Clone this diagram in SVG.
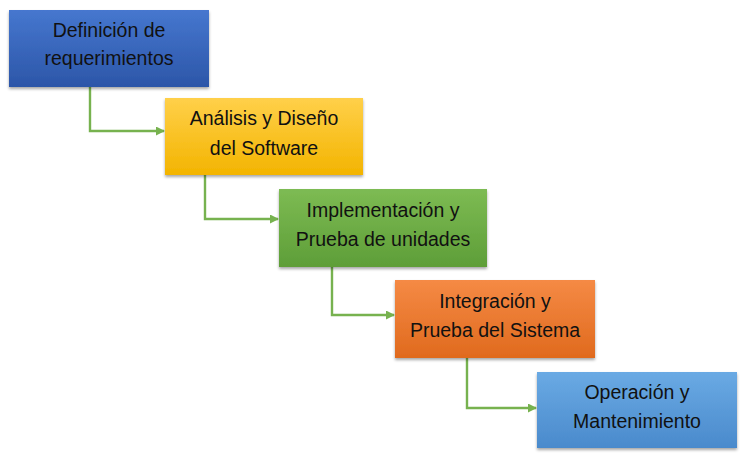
<svg xmlns="http://www.w3.org/2000/svg" width="745" height="460" viewBox="0 0 745 460">
<style>
.t{font-family:"Liberation Sans",Arial,sans-serif;font-size:19.5px;fill:#111;text-anchor:middle}
.c{fill:none;stroke:#77b24f;stroke-width:2.4}
</style>
<defs>
<linearGradient id="gB" x1="0" y1="0" x2="0" y2="1"><stop offset="0" stop-color="#4677cf"/><stop offset="1" stop-color="#2c56a8"/></linearGradient>
<linearGradient id="gY" x1="0" y1="0" x2="0" y2="1"><stop offset="0" stop-color="#ffd04a"/><stop offset="1" stop-color="#f3b400"/></linearGradient>
<linearGradient id="gG" x1="0" y1="0" x2="0" y2="1"><stop offset="0" stop-color="#7dbb53"/><stop offset="1" stop-color="#5e9e38"/></linearGradient>
<linearGradient id="gO" x1="0" y1="0" x2="0" y2="1"><stop offset="0" stop-color="#f58a45"/><stop offset="1" stop-color="#e06a1e"/></linearGradient>
<linearGradient id="gL" x1="0" y1="0" x2="0" y2="1"><stop offset="0" stop-color="#6aaae4"/><stop offset="1" stop-color="#4a8acc"/></linearGradient>
<filter id="sh" x="-5%" y="-5%" width="110%" height="120%"><feDropShadow dx="0" dy="2" stdDeviation="1.5" flood-color="#000" flood-opacity="0.35"/></filter>
<marker id="ah" markerWidth="9" markerHeight="9" refX="8" refY="4.5" orient="auto" markerUnits="userSpaceOnUse"><path d="M0,0 L9,4.5 L0,9 Z" fill="#77b24f"/></marker>
</defs>
<rect width="745" height="460" fill="#fff"/>
<g id="connectors">
<path class="c" d="M90,87 V131 H164" marker-end="url(#ah)"/>
<path class="c" d="M205,175 V219 H278" marker-end="url(#ah)"/>
<path class="c" d="M332,267 V315 H394" marker-end="url(#ah)"/>
<path class="c" d="M467,358 V408 H536" marker-end="url(#ah)"/>
</g>
<g id="n1"><rect x="9" y="10" width="200" height="77" fill="url(#gB)" filter="url(#sh)"/><text class="t" x="109" y="37">Definición de</text><text class="t" x="109" y="65">requerimientos</text></g>
<g id="n2"><rect x="165" y="98" width="198" height="77" fill="url(#gY)" filter="url(#sh)"/><text class="t" x="264" y="125">Análisis y Diseño</text><text class="t" x="264" y="155">del Software</text></g>
<g id="n3"><rect x="279" y="189" width="208" height="78" fill="url(#gG)" filter="url(#sh)"/><text class="t" x="383" y="217">Implementación y</text><text class="t" x="383" y="246">Prueba de unidades</text></g>
<g id="n4"><rect x="395" y="280" width="200" height="78" fill="url(#gO)" filter="url(#sh)"/><text class="t" x="495" y="308">Integración y</text><text class="t" x="495" y="337">Prueba del Sistema</text></g>
<g id="n5"><rect x="537" y="372" width="200" height="76" fill="url(#gL)" filter="url(#sh)"/><text class="t" x="637" y="399">Operación y</text><text class="t" x="637" y="428">Mantenimiento</text></g>
</svg>
